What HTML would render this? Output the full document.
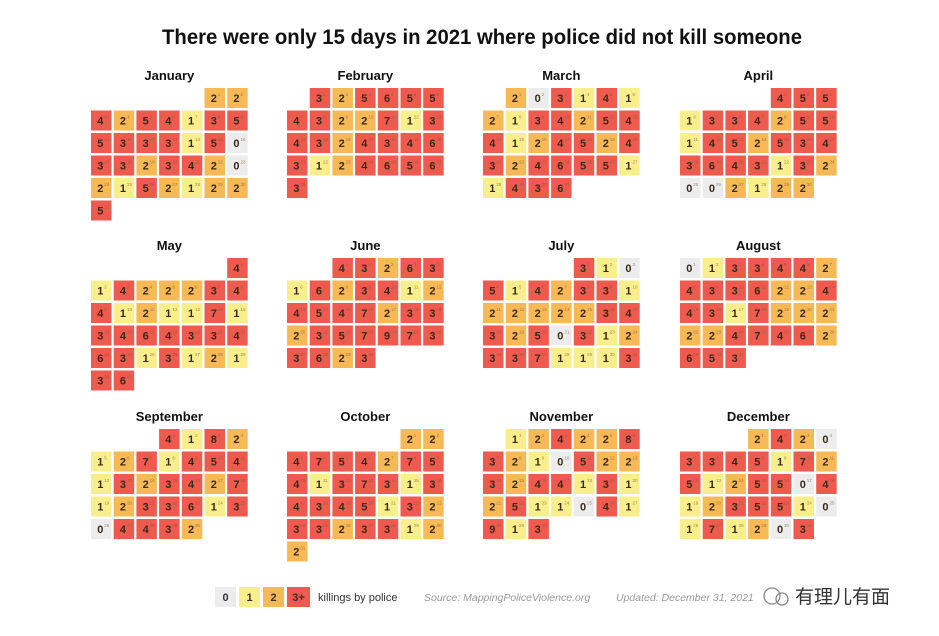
<!DOCTYPE html>
<html><head><meta charset="utf-8"><style>
html,body{margin:0;padding:0;background:#fff;}
svg{display:block;font-family:"Liberation Sans",sans-serif;}
</style></head><body>
<svg id="chart" width="939" height="636" viewBox="0 0 939 636">
<text x="482" y="44" text-anchor="middle" font-size="21" font-weight="bold" fill="#111" textLength="640" lengthAdjust="spacingAndGlyphs">There were only 15 days in 2021 where police did not kill someone</text>
<g id="months"></g>
<g>
<rect x="215" y="587" width="21" height="20" fill="#ececec"/>
<text x="225.5" y="601" text-anchor="middle" font-size="11" font-weight="bold" fill="#333">0</text>
<rect x="239" y="587" width="21" height="20" fill="#f8ef8c"/>
<text x="249.5" y="601" text-anchor="middle" font-size="11" font-weight="bold" fill="#333">1</text>
<rect x="263" y="587" width="21" height="20" fill="#f6b956"/>
<text x="273.5" y="601" text-anchor="middle" font-size="11" font-weight="bold" fill="#333">2</text>
<rect x="287" y="587" width="23" height="20" fill="#ee5a4e"/>
<text x="298.5" y="601" text-anchor="middle" font-size="11" font-weight="bold" fill="#333">3+</text>
<text x="318" y="601" font-size="11" fill="#333">killings by police</text>
</g>
<text x="424" y="601" font-size="10.5" font-style="italic" fill="#999">Source: MappingPoliceViolence.org</text>
<text x="616" y="601" font-size="10.5" font-style="italic" fill="#999">Updated: December 31, 2021</text>
<g>
<circle cx="772" cy="596" r="8" fill="none" stroke="#888" stroke-width="1.3"/>
<circle cx="782" cy="599" r="6" fill="none" stroke="#888" stroke-width="1.3"/>
<text x="795" y="603" font-family="'Liberation Sans','Noto Sans CJK SC',sans-serif" font-size="19" fill="#333">有理儿有面</text>
</g>
</svg>
<script>
const monthNames=["January","February","March","April","May","June","July","August","September","October","November","December"];
const startDays=[5,1,1,4,6,2,4,0,3,5,1,3];
const jan=[2,2,4,2,5,4,1,3,5,5,3,3,3,1,5,0,3,3,2,3,4,2,0,2,1,5,2,1,2,2,5];
const feb=[3,2,5,6,5,5,4,3,2,2,7,1,3,4,3,2,4,3,4,6,3,1,2,4,6,5,6,3];
const mar=[2,0,3,1,4,1,2,1,3,4,2,5,4,4,1,2,4,5,2,4,3,2,4,6,5,5,1,1,4,3,6];
const apr=[4,5,5,1,3,3,4,2,5,5,1,4,5,2,5,3,4,3,6,4,3,1,3,2,0,0,2,1,2,2];
const may=[4,1,4,2,2,2,3,4,4,1,2,1,1,7,1,3,4,6,4,3,3,4,6,3,1,3,1,2,1,3,6];
const jun=[4,3,2,6,3,1,6,2,3,4,1,2,4,5,4,7,2,3,3,2,3,5,7,9,7,3,3,6,2,3];
const jul=[3,1,0,5,1,4,2,3,3,1,2,2,2,2,2,3,4,3,2,5,0,3,1,2,3,3,7,1,1,1,3];
const aug=[0,1,3,3,4,4,2,4,3,3,6,2,2,4,4,3,1,7,2,2,2,2,2,4,7,4,6,2,6,5,3];
const sep=[4,1,8,2,1,2,7,1,4,5,4,1,3,2,3,4,2,7,1,2,3,3,6,1,3,0,4,4,3,2];
const oct=[2,2,4,7,5,4,2,7,5,4,1,3,7,3,1,3,4,3,4,5,1,3,2,3,3,2,3,3,1,2,2];
const nov=[1,2,4,2,2,8,3,2,1,0,5,2,2,3,2,4,4,1,3,1,2,5,1,1,0,4,1,9,1,3];
const dec=[2,4,2,0,3,3,4,5,1,7,2,5,1,2,5,5,0,4,1,2,3,5,5,1,0,1,7,1,2,0,3];
const monthData=[jan,feb,mar,apr,may,jun,jul,aug,sep,oct,nov,dec];

const NS="http://www.w3.org/2000/svg";
const root=document.getElementById("months");
const colX=[91,287,483,680], rowY=[88,258,429], pitchX=22.7, pitchY=22.5, cw=20.5, ch=20;
function color(v){return v===0?"#ececec":v===1?"#f8ef8c":v===2?"#f6b956":"#ee5a4e";}
function mk(tag,attrs){const e=document.createElementNS(NS,tag);for(const k in attrs)e.setAttribute(k,attrs[k]);return e;}
monthData.forEach((vals,m)=>{
  const ox=colX[m%4], oy=rowY[Math.floor(m/4)];
  const g=mk("g",{});
  
  
  const t=mk("text",{x:ox+3*pitchX+cw/2,y:oy-8,"text-anchor":"middle","font-size":"13","font-weight":"bold",fill:"#111"});
  t.textContent=monthNames[m];
  
  
  g.appendChild(t);
  vals.forEach((v,i)=>{
    const idx=startDays[m]+i, col=idx%7, row=Math.floor(idx/7);
    const x=ox+col*pitchX, y=oy+row*pitchY;
    const r=mk("rect",{x:x,y:y,width:cw,height:ch,fill:color(v)});
    
    
    g.appendChild(r);
    const tx=mk("text",{x:x+cw/2-1,y:y+14,"text-anchor":"middle","font-size":"11","font-weight":"bold",fill:"#3a2a1a"});
    tx.textContent=v;
    
    
    g.appendChild(tx);
    const d=mk("text",{x:x+cw/2+3,y:y+8,"font-size":"4.5",fill:"#7a5a3a","fill-opacity":"0.7"});
    d.textContent=i+1;
    
    
    g.appendChild(d);
  });
  root.appendChild(g);
});
</script>
</body></html>
